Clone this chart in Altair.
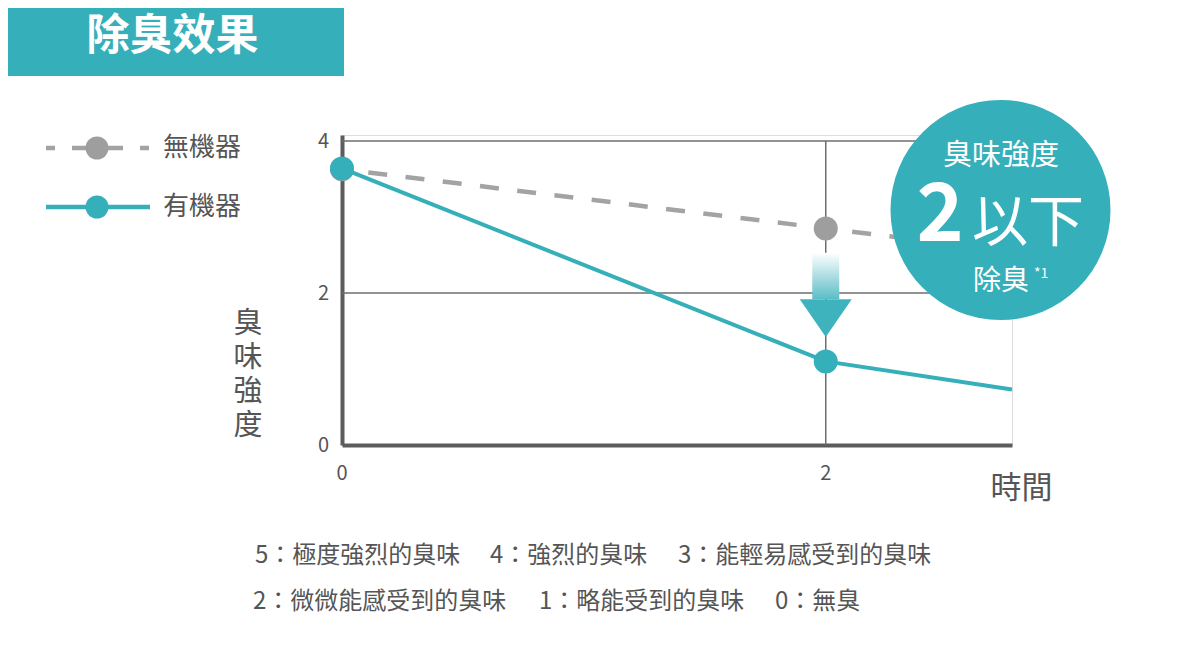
import altair as alt
import pandas as pd

FONT = "Noto Sans CJK TC"
TEAL = "#35AFBA"
GRAY_LINE = "#A3A3A3"
GRAY_DOT = "#9E9E9E"
AXIS_C = "#5C5C5C"
GRID_C = "#6E6E6E"
TXT = "#555555"

# ---- data ----
times = [0, 2, 2.77]
no_device = [3.63, 2.85, 2.55]
with_device = [3.64, 1.10, 0.73]
series_names = ["無機器", "有機器"]
marker_times = [0, 2]
x_ticks = [0, 2]
y_ticks = [0, 2, 4]
grid_y = [2, 4]
grid_x = [2]
arrow_x = [2]
arrow_top = [2.53]
arrow_neck = [1.92]
arrow_head = [1.67]
notes_1 = ["5：極度強烈的臭味", "4：強烈的臭味", "3：能輕易感受到的臭味"]
notes_2 = ["2：微微能感受到的臭味", "1：略能受到的臭味", "0：無臭"]

rows = []
for name, vals in zip(series_names, [no_device, with_device]):
    for t, v in zip(times, vals):
        rows.append({"series": name, "time": t, "value": v, "marker": t in marker_times})
df = pd.DataFrame(rows)
one = pd.DataFrame({"k": [0]})

xs = alt.Scale(domain=[0, 2.77], nice=False, zero=False)
ys = alt.Scale(domain=[0, 4.08], nice=False)

xaxis = alt.Axis(values=x_ticks, title=None, grid=False, ticks=False, tickSize=0, labels=False,
                 domainColor=AXIS_C, domainWidth=4, zindex=0)
yaxis = alt.Axis(values=y_ticks, title=None, grid=False, ticks=False, tickSize=0, labels=False,
                 domainColor=AXIS_C, domainWidth=4, zindex=0)

grid_h = alt.Chart(pd.DataFrame({"g": grid_y})).mark_rule(color=GRID_C, strokeWidth=1.5).encode(
    y=alt.Y("g:Q", scale=ys, axis=yaxis), x=alt.datum(0), x2=alt.datum(2.77))
grid_v = alt.Chart(pd.DataFrame({"g": grid_x})).mark_rule(color=GRID_C, strokeWidth=1.5).encode(
    x=alt.X("g:Q", scale=xs, axis=xaxis), y=alt.datum(0), y2=alt.datum(4))

# tick labels drawn from the tick arrays through the scales
y_labels = alt.Chart(pd.DataFrame({"t": y_ticks})).mark_text(
    font=FONT, fontSize=20, color=TXT, align="right", baseline="middle", dx=-13, dy=1).encode(
    y=alt.Y("t:Q", scale=ys), x=alt.datum(0), text=alt.Text("t:Q", format="d"))
x_labels = alt.Chart(pd.DataFrame({"t": x_ticks})).mark_text(
    font=FONT, fontSize=20, color=TXT, align="center", baseline="middle", dy=29).encode(
    x=alt.X("t:Q", scale=xs), y=alt.datum(0), text=alt.Text("t:Q", format="d"))

base = alt.Chart(df).encode(
    x=alt.X("time:Q", scale=xs, axis=xaxis),
    y=alt.Y("value:Q", scale=ys, axis=yaxis),
)
dashed = base.transform_filter(alt.datum.series == "無機器").mark_line(
    color=GRAY_LINE, strokeWidth=4.5, strokeDash=[19, 18.5], strokeDashOffset=11)
gray_pts = base.transform_filter((alt.datum.series == "無機器") & alt.datum.marker).mark_circle(
    size=576, color=GRAY_DOT, opacity=1)
solid = base.transform_filter(alt.datum.series == "有機器").mark_line(color=TEAL, strokeWidth=4)
teal_pts = base.transform_filter((alt.datum.series == "有機器") & alt.datum.marker).mark_circle(
    size=576, color=TEAL, opacity=1)

arrow_df = pd.DataFrame({"x": arrow_x, "top": arrow_top, "neck": arrow_neck, "head": arrow_head})
grad = alt.Gradient(gradient="linear",
                    stops=[alt.GradientStop(color="#FFFFFF", offset=0),
                           alt.GradientStop(color="#5BBDC6", offset=1)],
                    x1=0, x2=0, y1=0, y2=1)
arrow_body = alt.Chart(arrow_df).mark_rect(color=grad, xOffset=-13.5, x2Offset=13.5).encode(
    x=alt.X("x:Q", scale=xs), x2="x", y=alt.Y("top:Q", scale=ys), y2="neck")
arrow_tip = alt.Chart(arrow_df).mark_point(
    shape="M-1,-0.73L1,-0.73L0,0.73Z", size=2704, filled=True, opacity=1,
    color="#3FB3BD", strokeWidth=0).encode(x=alt.X("x:Q", scale=xs), y=alt.Y("head:Q", scale=ys))


def txt(text, x, y, size, color=TXT, align="left", weight="normal", baseline="middle", **kw):
    return alt.Chart(one).mark_text(text=text, fontSize=size, font=FONT, color=color, align=align,
                                    baseline=baseline, fontWeight=weight, **kw).encode(
        x=alt.value(x), y=alt.value(y))


# header
header_rect = alt.Chart(one).mark_rect(color=TEAL).encode(
    x=alt.value(-334), x2=alt.value(2), y=alt.value(-127), y2=alt.value(-59))
header_txt = txt("除臭效果", -169.5, -98, 43, color="#FFFFFF", align="center", weight="bold")

# legend
leg1_line = alt.Chart(one).mark_rule(color=GRAY_LINE, strokeWidth=4.3,
                                     strokeDash=[9, 17, 51, 17, 9, 60]).encode(
    x=alt.value(-296), x2=alt.value(-192), y=alt.value(13))
leg1_dot = alt.Chart(one).mark_circle(size=529, color=GRAY_DOT, opacity=1).encode(
    x=alt.value(-245), y=alt.value(13))
leg1_txt = txt(series_names[0], -179, 13, 26)
leg2_line = alt.Chart(one).mark_rule(color=TEAL, strokeWidth=4.3).encode(
    x=alt.value(-296), x2=alt.value(-192), y=alt.value(72))
leg2_dot = alt.Chart(one).mark_circle(size=529, color=TEAL, opacity=1).encode(
    x=alt.value(-245), y=alt.value(72))
leg2_txt = txt(series_names[1], -179, 72, 26)

# axis titles
y_title = txt("臭\n味\n強\n度", -94, 189, 29, align="center", lineBreak="\n", lineHeight=34)
x_title = txt("時間", 679.5, 354, 31, align="center")

# badge
badge = alt.Chart(one).mark_circle(size=48400, color=TEAL, opacity=1).encode(
    x=alt.value(658.5), y=alt.value(75))
b1 = txt("臭味強度", 659, 21, 29, color="#FFFFFF", align="center")
b2 = txt("2", 598, 106, 80, color="#FFFFFF", align="center", weight="bold", baseline="alphabetic")
b3 = txt("以下", 686, 89, 56, color="#FFFFFF", align="center")
b4 = txt("除臭", 659, 147, 28, color="#FFFFFF", align="center")
b5 = txt("*1", 692, 139, 14, color="#FFFFFF")

# notes
note_x1 = [-87, 148, 336]
note_x2 = [-89, 197, 433]
notes = [txt(t, x, 421, 24) for t, x in zip(notes_1, note_x1)] + \
        [txt(t, x, 467, 24) for t, x in zip(notes_2, note_x2)]

chart = alt.layer(
    grid_h, grid_v, dashed, gray_pts, solid, arrow_body, arrow_tip, teal_pts,
    y_labels, x_labels,
    badge, b1, b2, b3, b4, b5,
    header_rect, header_txt,
    leg1_line, leg1_dot, leg1_txt, leg2_line, leg2_dot, leg2_txt,
    y_title, x_title, *notes,
).properties(width=670, height=310, padding=0).configure_view(strokeWidth=0).configure(
    background="#FFFFFF")

chart.save("out.html", embed_options={"renderer": "svg", "actions": False})
